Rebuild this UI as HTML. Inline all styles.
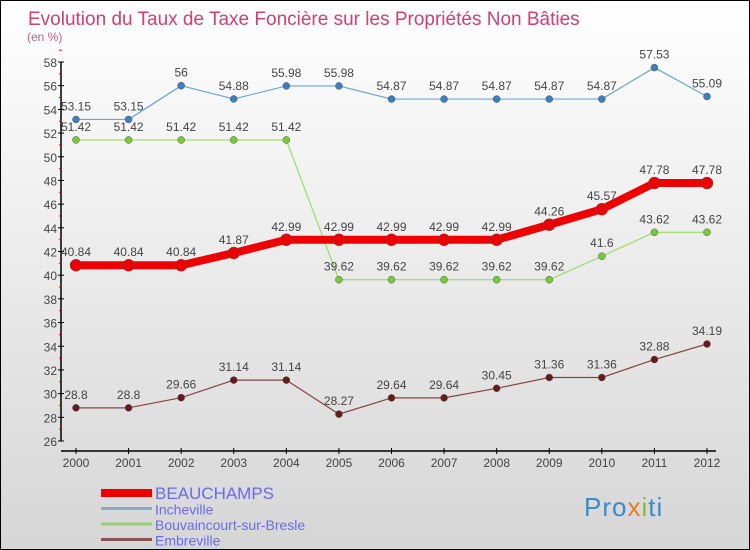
<!DOCTYPE html>
<html><head><meta charset="utf-8"><style>
body{margin:0;}
#c{width:750px;height:550px;position:relative;box-sizing:border-box;border:1px solid #000;background:linear-gradient(#ffffff,#d6d6d6);font-family:"Liberation Sans",sans-serif;overflow:hidden}
</style></head><body>
<div id="c">
<svg id="s" width="750" height="550" style="position:absolute;left:0;top:0"></svg>
</div>
<script>
const years=["2000","2001","2002","2003","2004","2005","2006","2007","2008","2009","2010","2011","2012"];
const beauchamps=[40.84,40.84,40.84,41.87,42.99,42.99,42.99,42.99,42.99,44.26,45.57,47.78,47.78];
const incheville=[53.15,53.15,56,54.88,55.98,55.98,54.87,54.87,54.87,54.87,54.87,57.53,55.09];
const bouvaincourt=[51.42,51.42,51.42,51.42,51.42,39.62,39.62,39.62,39.62,39.62,41.6,43.62,43.62];
const embreville=[28.8,28.8,29.66,31.14,31.14,28.27,29.64,29.64,30.45,31.36,31.36,32.88,34.19];
const yTicks=[26,28,30,32,34,36,38,40,42,44,46,48,50,52,54,56,58];
const labelsB=["40.84","40.84","40.84","41.87","42.99","42.99","42.99","42.99","42.99","44.26","45.57","47.78","47.78"];
const labelsI=["53.15","53.15","56","54.88","55.98","55.98","54.87","54.87","54.87","54.87","54.87","57.53","55.09"];
const labelsBo=["51.42","51.42","51.42","51.42","51.42","39.62","39.62","39.62","39.62","39.62","41.6","43.62","43.62"];
const labelsE=["28.8","28.8","29.66","31.14","31.14","28.27","29.64","29.64","30.45","31.36","31.36","32.88","34.19"];
const NS="http://www.w3.org/2000/svg";const s=document.getElementById('s');
const X=i=>75+i*(706-75)/12;const Y=v=>440-(v-26)*(440-61)/32;
function mk(t,a,p){const e=document.createElementNS(NS,t);for(const k in a)e.setAttribute(k,a[k]);(p||s).appendChild(e);return e;}
let t=mk('text',{x:27,y:24,'font-size':19,fill:'#d04070'});t.textContent='Evolution du Taux de Taxe Foncière sur les Propriétés Non Bâties';

t=mk('text',{x:26,y:40,'font-size':12,fill:'#c06080'});t.textContent='(en %)';

let ax=mk('line',{x1:60,y1:61,x2:60,y2:440,stroke:'#000','stroke-width':1.5});

ax=mk('line',{x1:60,y1:450,x2:715,y2:450,stroke:'#000','stroke-width':1.5});

yTicks.forEach(v=>{mk('line',{x1:57,x2:63,y1:Y(v),y2:Y(v),stroke:'#000'});
mk('line',{x1:58,x2:61,y1:Y(v+1),y2:Y(v+1),stroke:'#e00'});
const l=mk('text',{x:56,y:Y(v)+5,'text-anchor':'end','font-size':12,fill:'#444'});l.textContent=v;
});
years.forEach((y,i)=>{mk('line',{x1:X(i),x2:X(i),y1:447,y2:453,stroke:'#000'});
const l=mk('text',{x:X(i),y:466,'text-anchor':'middle','font-size':12,fill:'#444'});l.textContent=y;
});
function series(d,lab,col,w,r,dot,name){
const p=mk('polyline',{points:d.map((v,i)=>X(i)+','+Y(v)).join(' '),fill:'none',stroke:col,'stroke-width':w,'stroke-linejoin':'round'});

d.forEach((v,i)=>{const c=mk('circle',{cx:X(i),cy:Y(v),r:r,fill:dot,stroke:'#555','stroke-width':0.5});

const l=mk('text',{x:X(i),y:Y(v)-9,'text-anchor':'middle','font-size':12,fill:'#444'});l.textContent=lab[i];
});}
series(incheville,labelsI,'#6aa6d8',1.2,3.5,'#3a80c0','incheville');
series(bouvaincourt,labelsBo,'#99dd66',1.2,3.5,'#77cc33','bouvaincourt');
series(embreville,labelsE,'#884444',1.2,3.5,'#661a1a','embreville');
series(beauchamps,labelsB,'#ee0000',8,6,'#ee0000','beauchamps');
const leg=[['BEAUCHAMPS','#ee0000',8,17],['Incheville','#88aacc',3,14],['Bouvaincourt-sur-Bresle','#99cc77',3,14],['Embreville','#885555',3,14]];
leg.forEach((e,i)=>{const y=492+i*15.5;const g=mk('g',{});

mk('line',{x1:100,x2:151,y1:y,y2:y,stroke:e[1],'stroke-width':e[2]},g);
const l=mk('text',{x:154,y:y+6,'font-size':e[3],fill:'#6a6af0'},g);l.textContent=e[0];});
const lg=mk('text',{x:583,y:515,'font-size':26,fill:'#3a8ad0','letter-spacing':1});

lg.innerHTML='Pro<tspan fill="#e08020">x</tspan><tspan fill="#88bb33">i</tspan>ti';
</script>
</body></html>
